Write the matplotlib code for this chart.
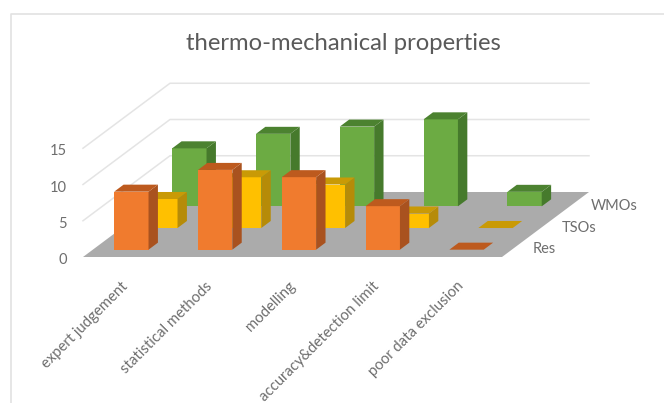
import matplotlib
matplotlib.use("Agg")
import matplotlib.pyplot as plt
from matplotlib.patches import Polygon

# -------------------------------
# Data
# -------------------------------
categories = ["expert judgement", "statistical methods", "modelling",
              "accuracy&detection limit", "poor data exclusion"]
series_names = ["Res", "TSOs", "WMOs"]
res_values = [8, 11, 10, 6, 0]
tso_values = [4, 7, 6, 2, 0]
wmo_values = [8, 10, 11, 12, 2]
y_ticks = [0, 5, 10, 15]

# -------------------------------
# Oblique projection (pixel layout of the 3D box)
# -------------------------------
origin_x, origin_y = 83, 257   # front left corner of the floor
floor_w = 419                  # width of the floor
depth_x, depth_y = 87, -65     # back wall offset
unit_h = 7.25                  # pixels per value unit
bar_w = 0.41                   # fraction of a category slot
bar_d = 0.108                  # fraction of the floor depth


def project(cat, depth, value):
    px = origin_x + cat / len(categories) * floor_w + depth * depth_x
    py = origin_y + depth * depth_y - value * unit_h
    return (px, py)


series_colors = {
    "Res": ("#F07B2E", "#BD5A1E", "#A9521F"),
    "TSOs": ("#FFC000", "#C99A06", "#B68B08"),
    "WMOs": ("#6CAB43", "#4C8230", "#467A2C"),
}
series_values = {"Res": res_values, "TSOs": tso_values, "WMOs": wmo_values}

fig = plt.figure(figsize=(6.64, 4.03), dpi=100)
ax = fig.add_axes([0, 0, 1, 1])
ax.set_xlim(0, 664)
ax.set_ylim(403, 0)
ax.axis("off")

# chart frame
ax.plot([11, 11, 664], [403, 14, 14], color="#E2E2E2", lw=1.2)

# floor
n = len(categories)
floor = [project(0, 0, 0), project(n, 0, 0), project(n, 1, 0), project(0, 1, 0)]
ax.add_patch(Polygon(floor, closed=True, fc="#ABABAB", ec="none", zorder=1))

# gridlines on the side and back walls
for tick in y_ticks[1:]:
    pts = [project(0, 0, tick), project(0, 1, tick), project(n, 1, tick)]
    ax.plot([p[0] for p in pts], [p[1] for p in pts], color="#E4E4E4", lw=1.1, zorder=0)
for tick in y_ticks:
    px, py = project(0, 0, tick)
    ax.text(px - 16, py + 3, str(tick), ha="right", va="center", fontsize=10.5,
            family="Lato", color="#6E6E6E")

# bars, back row first so the front rows cover them
z = 2
for s in [2, 1, 0]:
    name = series_names[s]
    front, top, side = series_colors[name]
    d0 = (s + 0.5) / 3 - bar_d / 2
    d1 = d0 + bar_d
    for c, val in enumerate(series_values[name]):
        x0 = c + 0.5 - bar_w / 2 - 0.04
        x1 = x0 + bar_w
        if val > 0:
            ax.add_patch(Polygon([project(x0, d0, 0), project(x1, d0, 0),
                                  project(x1, d0, val), project(x0, d0, val)],
                                 fc=front, ec="none", zorder=z))
            ax.add_patch(Polygon([project(x1, d0, 0), project(x1, d1, 0),
                                  project(x1, d1, val), project(x1, d0, val)],
                                 fc=side, ec="none", zorder=z))
        ax.add_patch(Polygon([project(x0, d0, val), project(x1, d0, val),
                              project(x1, d1, val), project(x0, d1, val)],
                             fc=top, ec="none", zorder=z))
        z += 1
    # series label past the right edge of the floor
    px, py = project(n, (s + 0.5) / 3, 0)
    ax.text(px + 16, py + 3, name, ha="left", va="center", fontsize=10.5,
            family="Lato", color="#6E6E6E")

# category labels
for c, label in enumerate(categories):
    px, py = project(c + 0.5, 0, 0)
    ax.text(px - 4, py + 22, label, rotation=45, rotation_mode="anchor",
            ha="right", va="top", fontsize=10.7, family="Lato", color="#6E6E6E")

ax.text(343, 44, "thermo-mechanical properties", ha="center", va="center",
        fontsize=17.2, family="Lato", color="#5A5A5A")

plt.savefig("out.png", dpi=100)
